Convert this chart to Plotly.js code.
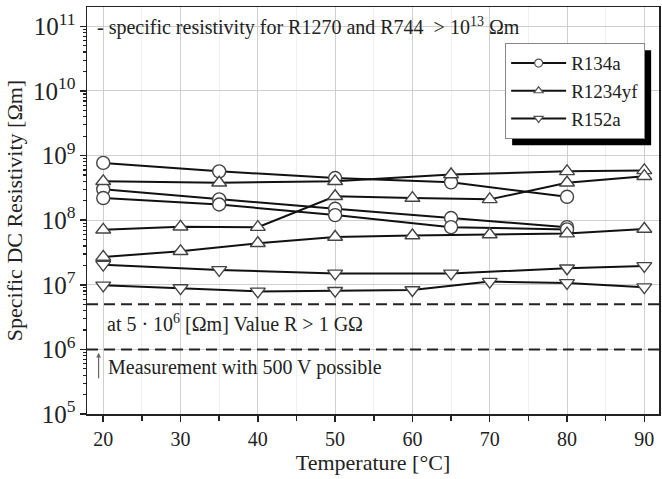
<!DOCTYPE html>
<html>
<head>
<meta charset="utf-8">
<script src="https://cdn.plot.ly/plotly-3.0.1.min.js"></script>
<style>html,body{margin:0;padding:0;background:#fff}#chart{width:662px;height:479px}</style>
</head>
<body>
<div id="chart"></div>
<script>
// ---- data ----
const tempA = [20, 35, 50, 65, 80];
const tempB = [20, 35, 50, 65, 80, 90];
const tempC = [20, 30, 40, 50, 60, 70, 80, 90];

const r134a_1 = [7.7e8, 5.7e8, 4.5e8, 3.85e8, 2.3e8];
const r134a_2 = [3.0e8, 2.1e8, 1.5e8, 1.08e8, 7.8e7];
const r134a_3 = [2.2e8, 1.75e8, 1.2e8, 7.8e7, 7.2e7];

const r1234yf_1 = [4.0e8, 3.8e8, 4.0e8, 5.1e8, 5.7e8, 5.9e8];
const r1234yf_2 = [7.1e7, 7.9e7, 7.8e7, 2.35e8, 2.2e8, 2.1e8, 3.8e8, 4.8e8];
const r1234yf_3 = [2.7e7, 3.3e7, 4.4e7, 5.5e7, 5.8e7, 6.0e7, 6.2e7, 7.3e7];

const r152a_1 = [2.05e7, 1.7e7, 1.5e7, 1.5e7, 1.8e7, 1.96e7];
const r152a_2 = [9.8e6, 8.9e6, 7.9e6, 8.1e6, 8.3e6, 1.12e7, 1.07e7, 9.2e6];

const limitValue = 5e6;
const measureValue = 1e6;

const legendNames = ['R134a', 'R1234yf', 'R152a'];
const xTicks = [20, 30, 40, 50, 60, 70, 80, 90];

// ---- styling ----
const FONT = 'Liberation Serif, Times New Roman, serif';
const lineStyle = {color: '#111', width: 2};
function mk(symbol) {
  return {symbol: symbol, size: 13, color: '#fff', line: {color: '#444', width: 1.4}};
}
function series(x, y, symbol) {
  return {x: x, y: y, type: 'scatter', mode: 'lines+markers', line: lineStyle,
          marker: mk(symbol), showlegend: false, hoverinfo: 'skip'};
}
function legendTrace(name, symbol) {
  return {x: [null], y: [null], type: 'scatter', mode: 'lines+markers', name: name,
          line: {color: '#111', width: 2},
          marker: {symbol: symbol, size: 8, color: '#fff', line: {color: '#555', width: 1.2}},
          showlegend: true};
}

const traces = [
  series(tempA, r134a_1, 'circle'),
  series(tempA, r134a_2, 'circle'),
  series(tempA, r134a_3, 'circle'),
  series(tempB, r1234yf_1, 'triangle-up'),
  series(tempC, r1234yf_2, 'triangle-up'),
  series(tempC, r1234yf_3, 'triangle-up'),
  series(tempB, r152a_1, 'triangle-down'),
  series(tempC, r152a_2, 'triangle-down'),
  legendTrace(legendNames[0], 'circle'),
  legendTrace(legendNames[1], 'triangle-up'),
  legendTrace(legendNames[2], 'triangle-down')
];

const M = {l: 87, r: 3, t: 7, b: 65};
const W = 662, H = 479;
const PW = W - M.l - M.r, PH = H - M.t - M.b;

const layout = {
  width: W, height: H,
  margin: M,
  paper_bgcolor: '#fff', plot_bgcolor: '#fff',
  font: {family: FONT, size: 20, color: '#222'},
  xaxis: {
    range: [17.9, 91.9], tickvals: xTicks, ticks: 'outside', ticklen: 6, tickwidth: 1.5,
    tickcolor: '#222', showline: true, linecolor: '#222', linewidth: 1.5, mirror: true,
    showgrid: true, gridcolor: '#cfcfcf', gridwidth: 1, zeroline: false,
    minor: {dtick: 5, tick0: 0, ticks: 'outside', ticklen: 5, tickwidth: 1.5, tickcolor: '#222', showgrid: true, gridcolor: '#f0f0f0'},
    tickfont: {size: 20},
    title: {text: 'Temperature [°C]', font: {size: 22}, standoff: 6}
  },
  yaxis: {
    type: 'log', range: [5, 11.3], dtick: 1, exponentformat: 'power', showexponent: 'all',
    ticks: 'outside', ticklen: 6, tickwidth: 1.5, tickcolor: '#222',
    showline: true, linecolor: '#222', linewidth: 1.5, mirror: true,
    showgrid: true, gridcolor: '#cfcfcf', gridwidth: 1, zeroline: false,
    minor: {dtick: 'D1', ticks: 'outside', ticklen: 3, tickwidth: 1.2, tickcolor: '#222', showgrid: false},
    tickfont: {size: 20},
    title: {text: 'Specific DC Resistivity [Ωm]', font: {size: 22}, standoff: 4}
  },
  legend: {
    x: 0.731, y: 0.911, xanchor: 'left', yanchor: 'top',
    bgcolor: '#fff', bordercolor: '#888', borderwidth: 1, itemwidth: 55,
    font: {family: FONT, size: 19, color: '#222'}
  },
  shapes: [
    {type: 'line', xref: 'paper', x0: 0, x1: 1, yref: 'y', y0: limitValue, y1: limitValue,
     line: {color: '#222', width: 2, dash: '11px,6px'}},
    {type: 'line', xref: 'paper', x0: 0, x1: 1, yref: 'y', y0: measureValue, y1: measureValue,
     line: {color: '#222', width: 2, dash: '11px,6px'}}
  ],
  annotations: [
    {xref: 'paper', yref: 'paper', x: 0.014, y: 0.951, xanchor: 'left', yanchor: 'middle',
     text: '- specific resistivity for R1270 and R744  &gt; 10<sup>13</sup> Ωm', showarrow: false,
     font: {family: FONT, size: 20, color: '#222'}},
    {xref: 'paper', yref: 'paper', x: 0.031, y: 0.224, xanchor: 'left', yanchor: 'middle',
     text: 'at 5 · 10<sup>6</sup> [Ωm] Value R &gt; 1 GΩ', showarrow: false,
     font: {family: FONT, size: 20, color: '#222'}},
    {xref: 'paper', yref: 'paper', x: 0.033, y: 0.115, xanchor: 'left', yanchor: 'middle',
     text: 'Measurement with 500 V possible', showarrow: false,
     font: {family: FONT, size: 20, color: '#222'}},
    {xref: 'x', yref: 'y', x: 19.4, y: Math.log10(measureValue) - 0.05, text: '', showarrow: true,
     ax: 0, ay: 27, arrowhead: 2, arrowsize: 0.8, arrowwidth: 1.2, arrowcolor: '#666'}
  ]
};

Plotly.newPlot('chart', traces, layout, {staticPlot: true, displayModeBar: false}).then(function (gd) {
  // drop shadow behind the legend box, sized from the drawn legend
  const leg = gd.querySelector('.legend');
  const bg = leg && leg.querySelector('.bg');
  if (!leg || !bg) return;
  const m = /translate\(\s*([-\d.]+)[ ,]+([-\d.]+)/.exec(leg.getAttribute('transform') || '');
  if (!m) return;
  const lx = parseFloat(m[1]), ly = parseFloat(m[2]);
  const bw = parseFloat(bg.getAttribute('width')), bh = parseFloat(bg.getAttribute('height'));
  const off = 7;
  const shadow = {
    type: 'rect', xref: 'paper', yref: 'paper', layer: 'above',
    x0: (lx + off - M.l) / PW, x1: (lx + bw + off - M.l) / PW,
    y0: 1 - (ly + bh + off - M.t) / PH, y1: 1 - (ly + off - M.t) / PH,
    fillcolor: '#000', line: {width: 0}
  };
  Plotly.relayout(gd, {shapes: layout.shapes.concat([shadow])});
});
</script>
</body>
</html>
